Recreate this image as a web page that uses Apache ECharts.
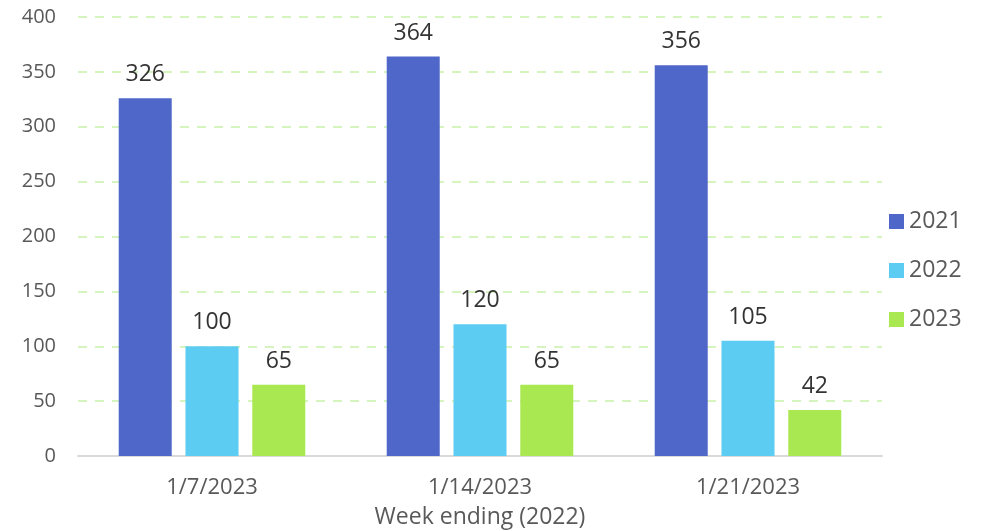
<!DOCTYPE html>
<html>
<head>
<meta charset="utf-8">
<script src="https://cdn.jsdelivr.net/npm/echarts@6/dist/echarts.min.js"></script>
<style>
  html, body { margin: 0; padding: 0; background: #fff; }
  #chart { width: 983px; height: 531px; }
</style>
</head>
<body>
<div id="chart"></div>
<script>
  // 数据
  const categories = ['1/7/2023', '1/14/2023', '1/21/2023']
  const seriesNames = ['2021', '2022', '2023']
  const values2021 = [326, 364, 356]
  const values2022 = [100, 120, 105]
  const values2023 = [65, 65, 42]
  const colors = ['#4F67C8', '#5DCCF2', '#A9E851']

  const font = '"Open Sans", sans-serif'
  const data = [values2021, values2022, values2023]

  const series = seriesNames.map((name, i) => ({
    name: name,
    type: 'bar',
    data: data[i],
    barWidth: 53,
    barGap: '26%',
    itemStyle: { color: colors[i] },
    label: {
      show: true,
      position: 'top',
      distance: 12,
      color: '#333',
      fontSize: 23,
      fontFamily: font
    }
  }))

  const option = {
    animation: false,
    grid: { left: 78, right: 101, top: 17, bottom: 75, outerBoundsMode: 'none' },
    legend: {
      orient: 'vertical',
      left: 884,
      top: 205,
      itemWidth: 15,
      itemHeight: 15,
      itemGap: 26,
      icon: 'rect',
      textStyle: { color: '#595959', fontSize: 23, fontFamily: font },
      data: seriesNames
    },
    xAxis: {
      type: 'category',
      data: categories,
      name: 'Week ending (2022)',
      nameLocation: 'middle',
      nameGap: 50,
      nameTextStyle: { color: '#595959', fontSize: 23, fontFamily: font },
      axisLine: { lineStyle: { color: '#D9D9D9', width: 2 } },
      axisTick: { show: false },
      axisLabel: { color: '#595959', fontSize: 22, fontFamily: font, margin: 21 }
    },
    yAxis: {
      type: 'value',
      min: 0,
      max: 400,
      interval: 50,
      axisLine: { show: false },
      axisTick: { show: false },
      axisLabel: { color: '#595959', fontSize: 20, fontFamily: font, margin: 22 },
      splitLine: { lineStyle: { color: '#D6F5BE', type: [9, 8], width: 2 } }
    },
    series: series
  }

  const chart = echarts.init(document.getElementById('chart'))
  chart.setOption(option)
</script>
</body>
</html>
